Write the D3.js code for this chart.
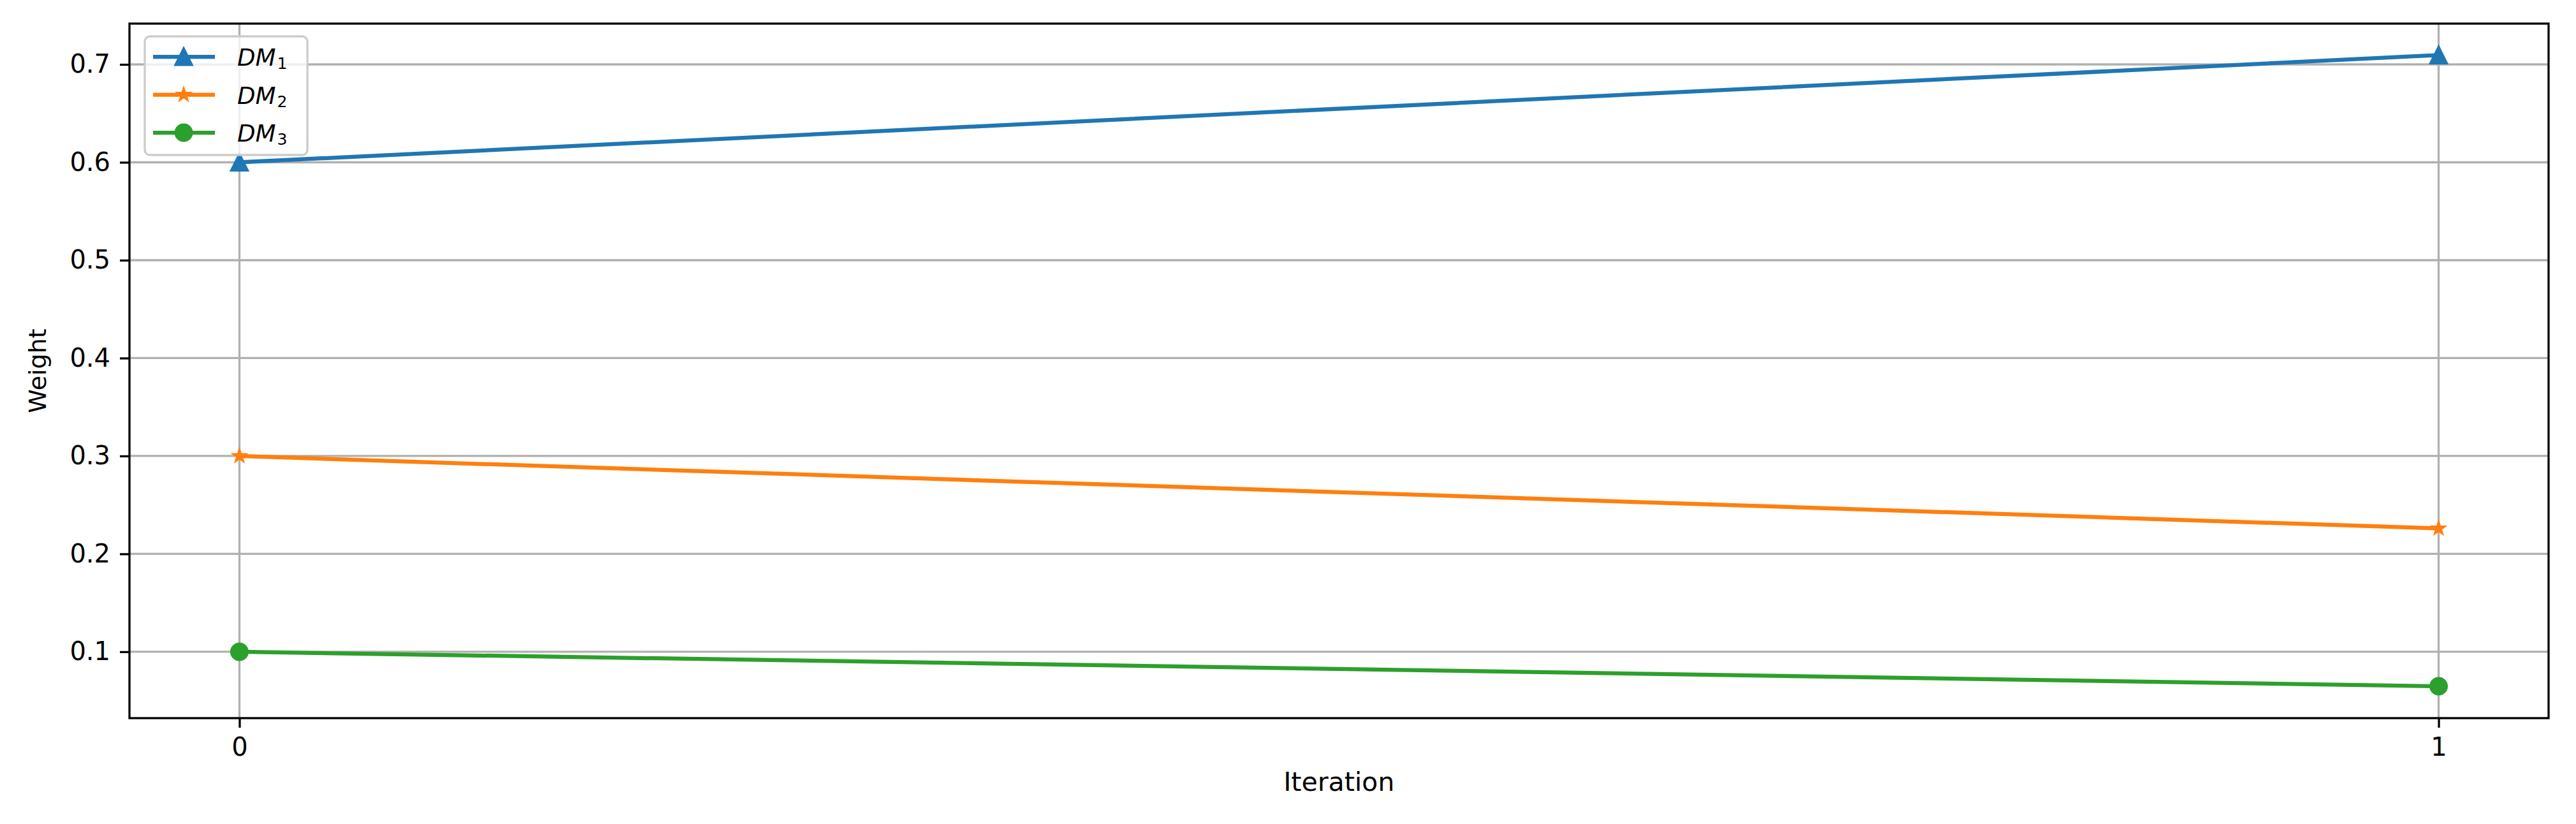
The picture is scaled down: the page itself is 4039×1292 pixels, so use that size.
<!DOCTYPE html>
<html>
<head>
<meta charset="utf-8">
<script src="https://cdn.jsdelivr.net/npm/d3@7"></script>
<style>
  html, body { margin: 0; padding: 0; background: #fff; }
  svg { display: block; }
  text { font-family: "DejaVu Sans", sans-serif; fill: #000; }
</style>
</head>
<body>
<svg id="chart" width="4039" height="1292"></svg>
<script>
// ---- data ----
const iterations = [0, 1];
const seriesNames = ["DM", "DM", "DM"];
const seriesSubs = ["1", "2", "3"];
const dm1 = [0.6, 0.7095];
const dm2 = [0.3, 0.226];
const dm3 = [0.1, 0.0648];
const xTicks = [0, 1];
const yTicks = [0.1, 0.2, 0.3, 0.4, 0.5, 0.6, 0.7];
const colors = ["#1f77b4", "#ff7f0e", "#2ca02c"];
const markers = ["triangle", "star", "circle"];
const xLabel = "Iteration";
const yLabel = "Weight";

const series = [dm1, dm2, dm3].map((vals, i) => ({
  name: seriesNames[i], sub: seriesSubs[i], color: colors[i], marker: markers[i],
  points: iterations.map((it, j) => ({x: it, y: vals[j]}))
}));

// ---- layout ----
const L = 203, R = 3996, T = 37, B = 1126;
const svg = d3.select("#chart");

const x = d3.scaleLinear().domain([-0.05, 1.05]).range([L, R]);
const y = d3.scaleLinear().domain([0.0322, 0.7417]).range([B, T]);

// markers
const triType = { draw(ctx, size) { const r = Math.sqrt(size) / 2;
  ctx.moveTo(0, -r); ctx.lineTo(r, r); ctx.lineTo(-r, r); ctx.closePath(); } };
function markerPath(kind) {
  if (kind === "triangle") return d3.symbol().type(triType).size(25 * 25)();
  if (kind === "star") return d3.symbol().type(d3.symbolStar).size(150)();
  return d3.symbol().type(d3.symbolCircle).size(Math.PI * 12.5 * 12.5)();
}

// grid
const grid = svg.append("g");
grid.selectAll("line.gy").data(yTicks).join("line")
  .attr("x1", L).attr("x2", R).attr("y1", d => y(d)).attr("y2", d => y(d))
  .attr("stroke", "#b0b0b0").attr("stroke-width", 3.3);
grid.selectAll("line.gx").data(xTicks).join("line")
  .attr("y1", T).attr("y2", B).attr("x1", d => x(d)).attr("x2", d => x(d))
  .attr("stroke", "#b0b0b0").attr("stroke-width", 3.3);

// lines
const line = d3.line().x(d => x(d.x)).y(d => y(d.y));
const sg = svg.append("g");
series.forEach(s => {
  sg.append("path").datum(s.points).attr("d", line)
    .attr("fill", "none").attr("stroke", s.color).attr("stroke-width", 6.25)
    .attr("stroke-linecap", "square");
  sg.selectAll(null).data(s.points).join("path")
    .attr("d", markerPath(s.marker))
    .attr("transform", d => `translate(${x(d.x)},${y(d.y)})`)
    .attr("fill", s.color).attr("stroke", s.color)
    .attr("stroke-width", s.marker === "star" ? 2 : 4)
    .attr("stroke-linejoin", "miter");
});

// axes
const xAxis = d3.axisBottom(x).tickValues(xTicks).tickFormat(d3.format("d"))
  .tickSize(15).tickPadding(14);
const yAxis = d3.axisLeft(y).tickValues(yTicks).tickFormat(d3.format(".1f"))
  .tickSize(15).tickPadding(15);
const gx = svg.append("g").attr("transform", `translate(0,${B})`).call(xAxis);
const gy = svg.append("g").attr("transform", `translate(${L},0)`).call(yAxis);
[gx, gy].forEach(g => {
  g.select(".domain").remove();
  g.selectAll(".tick line").attr("stroke", "#000").attr("stroke-width", 3.3);
  g.selectAll(".tick text").attr("font-family", "DejaVu Sans").attr("font-size", 40).attr("fill", "#000");
});
gx.selectAll(".tick text").attr("dy", "0.76em");

// frame
svg.append("rect").attr("x", L).attr("y", T).attr("width", R - L).attr("height", B - T)
  .attr("fill", "none").attr("stroke", "#000").attr("stroke-width", 3.3);

// axis labels
svg.append("text").attr("x", (L + R) / 2).attr("y", 1240)
  .attr("text-anchor", "middle").attr("font-size", 41).text(xLabel);
svg.append("text").attr("transform", `translate(72,${(T + B) / 2}) rotate(-90)`)
  .attr("text-anchor", "middle").attr("font-size", 38).text(yLabel);

// legend
const lg = svg.append("g");
lg.append("rect").attr("x", 227).attr("y", 57).attr("width", 255).attr("height", 186)
  .attr("rx", 8).attr("fill", "#fff").attr("fill-opacity", 0.8)
  .attr("stroke", "#cccccc").attr("stroke-width", 3.3);
series.forEach((s, i) => {
  const cy = 89 + i * 59.5;
  lg.append("line").attr("x1", 240).attr("x2", 337).attr("y1", cy).attr("y2", cy)
    .attr("stroke", s.color).attr("stroke-width", 6.25);
  lg.append("path").attr("d", markerPath(s.marker))
    .attr("transform", `translate(288,${cy})`)
    .attr("fill", s.color).attr("stroke", s.color)
    .attr("stroke-width", s.marker === "star" ? 2 : 4);
  const t = lg.append("text").attr("x", 372).attr("y", cy + 14)
    .attr("font-size", 37).attr("font-style", "italic");
  t.append("tspan").text(s.name);
  t.append("tspan").attr("font-size", 25).attr("font-style", "normal").attr("dy", 5).attr("dx", 2).text(s.sub);
});
</script>
</body>
</html>
